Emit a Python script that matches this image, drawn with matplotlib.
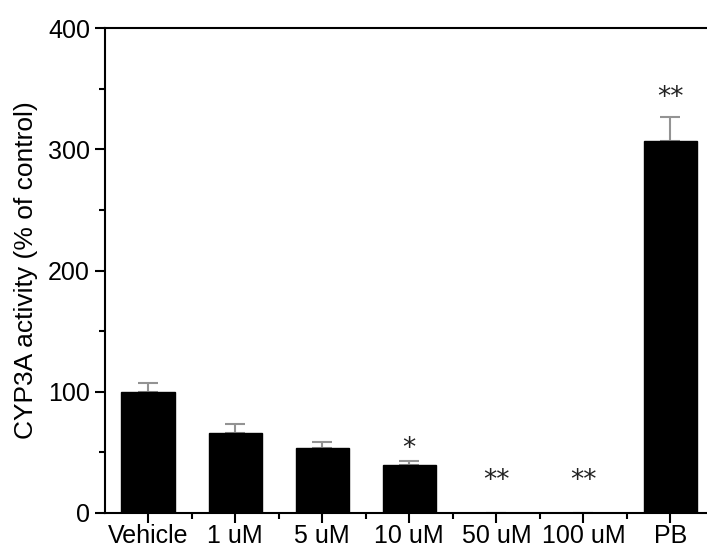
import numpy as np
import matplotlib.pyplot as plt
from matplotlib.ticker import MultipleLocator

plt.rcParams['font.family'] = ['Liberation Sans', 'DejaVu Sans']

# 数据
groups = ['Vehicle', '1 uM', '5 uM', '10 uM', '50 uM', '100 uM', 'PB']
activity = [100, 66, 54, 40, 0, 0, 307]
activity_err = [7, 7, 4.5, 3, 0, 0, 20]
sig_marks = ['', '', '', '*', '**', '**', '**']
sig_y = [0, 0, 0, 53, 26, 26, 342]

fig = plt.figure(figsize=(7.07, 5.49), dpi=100)
ax = fig.add_axes([104.5 / 707, 36 / 549, 609.5 / 707, 485 / 549])

x = np.arange(len(groups))
ax.errorbar(x, activity, yerr=[np.zeros(len(x)), activity_err], fmt='none',
            ecolor='#939393', elinewidth=1.5, capsize=7, capthick=1.5, zorder=1)
ax.bar(x, activity, width=0.61, color='black', edgecolor='black', zorder=2)

# 显著性标记
for xi, mark, yi in zip(x, sig_marks, sig_y):
    if mark:
        ax.text(xi, yi, mark, ha='center', va='center', fontsize=19,
                family='DejaVu Sans', color='#222222')

ax.set_xlim(-0.5, 6.5)
ax.set_ylim(0, 400)
ax.set_xticks(x)
ax.set_xticklabels(groups)
ax.xaxis.set_minor_locator(plt.FixedLocator(np.arange(0.5, 6, 1)))
ax.yaxis.set_major_locator(MultipleLocator(100))
ax.yaxis.set_minor_locator(MultipleLocator(50))
ax.set_ylabel('CYP3A activity (% of control)', fontsize=19, labelpad=7)

ax.tick_params(axis='both', which='major', direction='out', length=7, width=1.5,
               labelsize=18)
ax.tick_params(axis='x', which='major', pad=1)
ax.tick_params(axis='both', which='minor', direction='out', length=4, width=1.5)
for s in ax.spines.values():
    s.set_linewidth(1.5)

plt.savefig('out.png', dpi=100)
